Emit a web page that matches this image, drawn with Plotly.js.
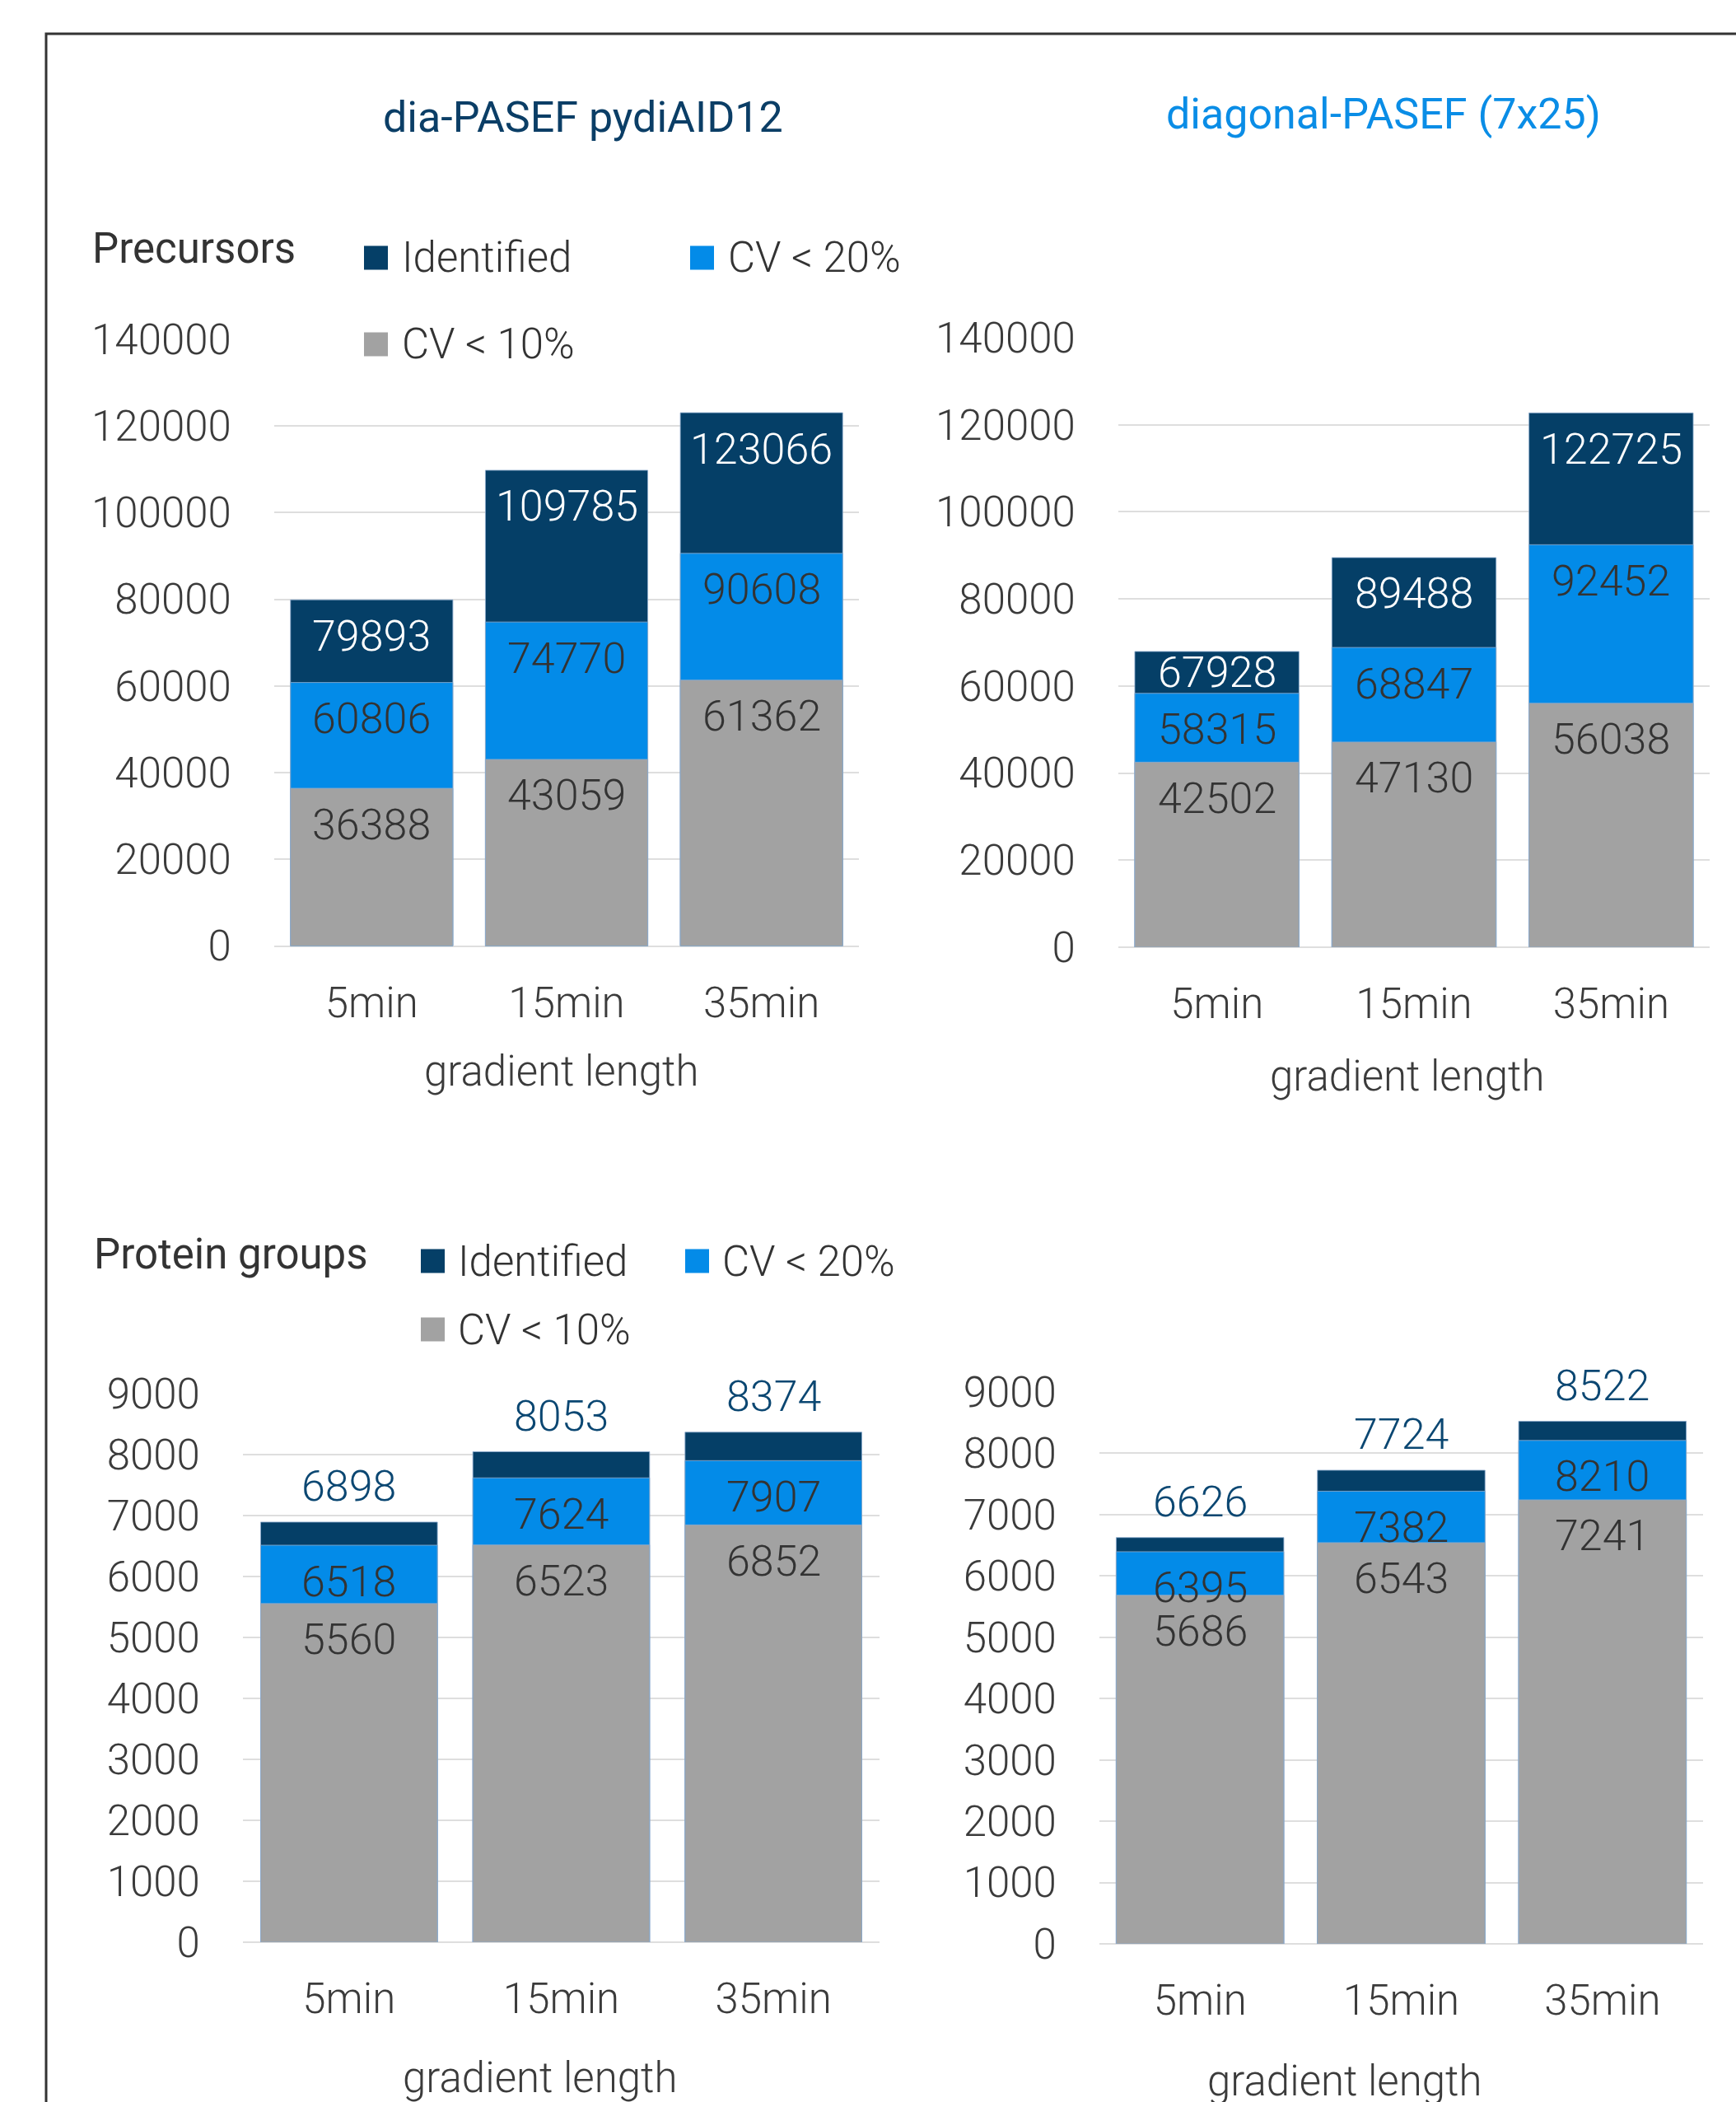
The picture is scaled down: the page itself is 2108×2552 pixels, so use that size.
<!DOCTYPE html>
<html>
<head>
<meta charset="utf-8">
<script src="https://cdn.plot.ly/plotly-3.0.1.min.js"></script>
<style>
html,body{margin:0;padding:0;background:#fff;}
#chart{width:2108px;height:2552px;}
</style>
</head>
<body>
<div id="chart"></div>
<script>
// ---------------- data ----------------
const categories = ['5min', '15min', '35min'];
const seriesNames = ['Identified', 'CV < 20%', 'CV < 10%'];

const precDiaIdentified = [79893, 109785, 123066];
const precDiaCV20 = [60806, 74770, 90608];
const precDiaCV10 = [36388, 43059, 61362];

const precDiagIdentified = [67928, 89488, 122725];
const precDiagCV20 = [58315, 68847, 92452];
const precDiagCV10 = [42502, 47130, 56038];

const protDiaIdentified = [6898, 8053, 8374];
const protDiaCV20 = [6518, 7624, 7907];
const protDiaCV10 = [5560, 6523, 6852];

const protDiagIdentified = [6626, 7724, 8522];
const protDiagCV20 = [6395, 7382, 8210];
const protDiagCV10 = [5686, 6543, 7241];

const methodTitles = ['dia-PASEF pydiAID12', 'diagonal-PASEF (7x25)'];
const sectionTitles = ['Precursors', 'Protein groups'];
const axisTitle = 'gradient length';

// ---------------- styling ----------------
const W = 2108, H = 2552;
const NAVY = '#053F67', BLUE = '#038BE8', GRAY = '#A2A2A2';
const colors = [NAVY, BLUE, GRAY];
const FONT = 'Roboto, "Noto Sans", sans-serif';
const FONT_LIGHT = '"Roboto Light", Roboto, "Noto Sans", sans-serif';
const TXT = '#333333';
const fx = p => p / W;
const fy = p => 1 - p / H;

const panels = [
  {ident: precDiaIdentified, cv20: precDiaCV20, cv10: precDiaCV10, ymax: 140000, dtick: 20000,
   x0: 333, x1: 1043, y0: 412, y1: 1148.5, outside: false, tx: 682, ty: 1300},
  {ident: precDiagIdentified, cv20: precDiagCV20, cv10: precDiagCV10, ymax: 140000, dtick: 20000,
   x0: 1358, x1: 2076, y0: 410, y1: 1150, outside: false, tx: 1709, ty: 1306},
  {ident: protDiaIdentified, cv20: protDiaCV20, cv10: protDiaCV10, ymax: 9000, dtick: 1000,
   x0: 295, x1: 1068, y0: 1692.5, y1: 2358, outside: true, tx: 656, ty: 2522},
  {ident: protDiagIdentified, cv20: protDiagCV20, cv10: protDiagCV10, ymax: 9000, dtick: 1000,
   x0: 1335, x1: 2068, y0: 1690, y1: 2360, outside: true, tx: 1633, ty: 2526}
];

const traces = [];
const annotations = [];
const shapes = [];
const layout = {
  width: W, height: H,
  margin: {l: 0, r: 0, t: 0, b: 0},
  paper_bgcolor: '#ffffff', plot_bgcolor: 'rgba(0,0,0,0)',
  barmode: 'overlay', bargap: 0.167,
  showlegend: false,
  font: {family: FONT, color: TXT}
};

const LABEL_OFF = 44;

panels.forEach((p, i) => {
  const n = i + 1;
  const xa = 'x' + (n === 1 ? '' : n), ya = 'y' + (n === 1 ? '' : n);
  const xkey = 'xaxis' + (n === 1 ? '' : n), ykey = 'yaxis' + (n === 1 ? '' : n);
  const pxPerUnit = (p.y1 - p.y0) / p.ymax;
  const series = [p.ident, p.cv20, p.cv10];
  series.forEach((vals, k) => {
    traces.push({
      type: 'bar', x: categories, y: vals, name: seriesNames[k],
      xaxis: xa, yaxis: ya,
      marker: {color: colors[k], line: {color: 'rgba(140,170,205,0.85)', width: 1}},
      hoverinfo: 'skip'
    });
  });
  layout[xkey] = {
    domain: [fx(p.x0), fx(p.x1)], anchor: ya, type: 'category',
    showgrid: false, zeroline: false, showline: false,
    ticks: 'outside', ticklen: 24, tickcolor: 'rgba(0,0,0,0)',
    tickfont: {family: FONT_LIGHT, size: 51, weight: 300, color: '#3B3B3B'},
    fixedrange: true
  };
  layout[ykey] = {
    domain: [fy(p.y1), fy(p.y0)], anchor: xa, range: [0, p.ymax],
    tick0: 0, dtick: p.dtick, tickformat: 'd',
    showgrid: true, gridcolor: '#DEDEDE', gridwidth: 2,
    zeroline: true, zerolinecolor: '#DEDEDE', zerolinewidth: 2,
    showline: false,
    ticks: 'outside', ticklen: 41, tickcolor: 'rgba(0,0,0,0)',
    tickfont: {family: FONT_LIGHT, size: 51, weight: 300, color: '#3B3B3B'},
    fixedrange: true
  };
  // data labels
  categories.forEach((c, j) => {
    if (p.outside) {
      annotations.push({x: c, y: p.ident[j], xref: xa, yref: ya, text: String(p.ident[j]),
        showarrow: false, yanchor: 'middle', yshift: 43,
        font: {family: FONT_LIGHT, size: 52, weight: 300, color: '#0B4772'}});
    } else {
      const segPx = (p.ident[j] - p.cv20[j]) * pxPerUnit;
      const fits = segPx >= 2 * LABEL_OFF;
      annotations.push({x: c, y: fits ? p.ident[j] : (p.ident[j] + p.cv20[j]) / 2,
        xref: xa, yref: ya, text: String(p.ident[j]),
        showarrow: false, yanchor: 'middle', yshift: fits ? -LABEL_OFF : 0,
        font: {family: FONT_LIGHT, size: 52, weight: 300, color: '#ffffff'}});
    }
    [p.cv20, p.cv10].forEach(arr => {
      annotations.push({x: c, y: arr[j], xref: xa, yref: ya, text: String(arr[j]),
        showarrow: false, yanchor: 'middle', yshift: -LABEL_OFF,
        font: {family: FONT_LIGHT, size: 52, weight: 300, color: TXT}});
    });
  });
  // axis title
  annotations.push({x: fx(p.tx), y: fy(p.ty), xref: 'paper', yref: 'paper', text: axisTitle,
    showarrow: false, xanchor: 'center', yanchor: 'middle',
    font: {family: FONT_LIGHT, size: 51, weight: 300, color: '#3B3B3B'}});
});

// method titles
annotations.push({x: fx(708), y: fy(143), xref: 'paper', yref: 'paper', text: methodTitles[0],
  showarrow: false, xanchor: 'center', yanchor: 'middle',
  font: {family: FONT, size: 52, color: '#0B3E66'}});
annotations.push({x: fx(1680), y: fy(138), xref: 'paper', yref: 'paper', text: methodTitles[1],
  showarrow: false, xanchor: 'center', yanchor: 'middle',
  font: {family: FONT, size: 52, color: '#0A8DE6'}});

// section titles + legends
const legends = [
  {title: sectionTitles[0], titleX: 110, titleY: 301,
   items: [{k: 0, sx: 442, sy: 313, tx: 486}, {k: 1, sx: 838, sy: 313, tx: 882}, {k: 2, sx: 442, sy: 418, tx: 486}]},
  {title: sectionTitles[1], titleX: 112, titleY: 1522,
   items: [{k: 0, sx: 511, sy: 1531, tx: 554}, {k: 1, sx: 832, sy: 1531, tx: 875}, {k: 2, sx: 511, sy: 1614, tx: 554}]}
];
const SQ = 29;
legends.forEach(L => {
  annotations.push({x: fx(L.titleX), y: fy(L.titleY), xref: 'paper', yref: 'paper', text: L.title,
    showarrow: false, xanchor: 'left', yanchor: 'middle',
    font: {family: FONT, size: 51, color: TXT}});
  L.items.forEach(it => {
    shapes.push({type: 'rect', xref: 'paper', yref: 'paper',
      x0: fx(it.sx), x1: fx(it.sx + SQ), y0: fy(it.sy + SQ / 2), y1: fy(it.sy - SQ / 2),
      fillcolor: colors[it.k], line: {width: 0}});
    annotations.push({x: fx(it.tx), y: fy(it.sy), xref: 'paper', yref: 'paper', text: seriesNames[it.k],
      showarrow: false, xanchor: 'left', yanchor: 'middle',
      font: {family: FONT_LIGHT, size: 51, weight: 300, color: TXT}});
  });
});

// outer frame (open at right / bottom, as in the source picture)
shapes.push({type: 'rect', xref: 'paper', yref: 'paper',
  x0: fx(56), x1: 1.05, y0: -0.05, y1: fy(41),
  line: {color: '#333333', width: 3}, fillcolor: 'rgba(0,0,0,0)', layer: 'above'});

layout.annotations = annotations;
layout.shapes = shapes;

Plotly.newPlot('chart', traces, layout, {staticPlot: true, displayModeBar: false});
</script>
</body>
</html>
